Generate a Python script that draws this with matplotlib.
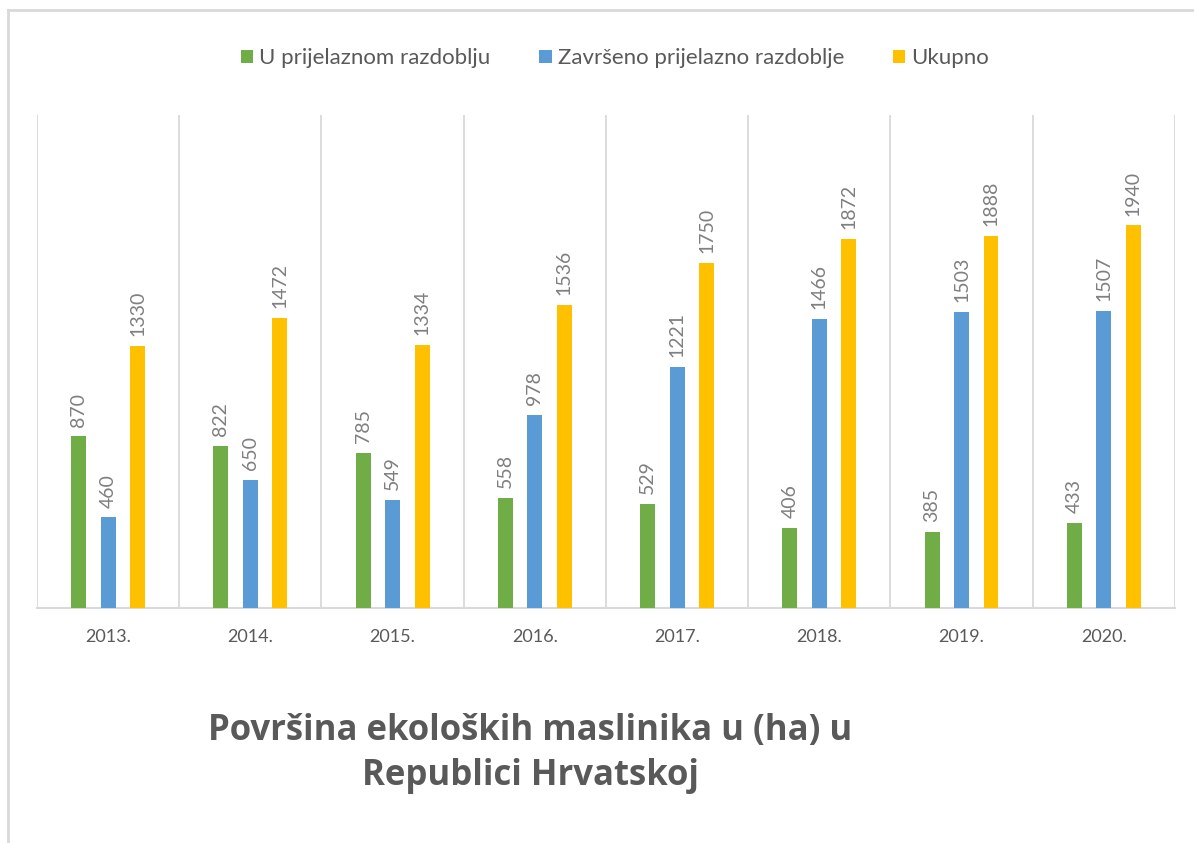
import numpy as np
import matplotlib.pyplot as plt
from matplotlib.lines import Line2D

years = ["2013.", "2014.", "2015.", "2016.", "2017.", "2018.", "2019.", "2020."]
u_prijelaznom = [870, 822, 785, 558, 529, 406, 385, 433]
zavrseno = [460, 650, 549, 978, 1221, 1466, 1503, 1507]
ukupno = [1330, 1472, 1334, 1536, 1750, 1872, 1888, 1940]

series = [
    ("U prijelaznom razdoblju", u_prijelaznom, "#70AD47"),
    ("Završeno prijelazno razdoblje", zavrseno, "#5B9BD5"),
    ("Ukupno", ukupno, "#FFC000"),
]

plt.rcParams["font.family"] = ["Lato", "DejaVu Sans"]

fig = plt.figure(figsize=(11.94, 8.43), dpi=100)
ax = fig.add_axes([0.031, 0.2788, 0.953, 0.5848])

x = np.arange(len(years))
width = 0.105
offsets = [-0.207, 0.0, 0.207]

for (name, vals, color), off in zip(series, offsets):
    bars = ax.bar(x + off, vals, width, color=color, label=name, zorder=3)
    for b, v in zip(bars, vals):
        ax.annotate(str(v), (b.get_x() + b.get_width() / 2, v),
                    xytext=(0, 7), textcoords="offset points",
                    rotation=90, ha="center", va="bottom",
                    fontsize=14, color="#7F7F7F")

ax.set_xlim(-0.5, len(years) - 0.5)
ax.set_ylim(0, 2500)
ax.set_yticks([])
ax.set_xticks(x)
ax.set_xticklabels(years, fontsize=13, color="#595959")
ax.set_xticks(np.arange(-0.5, len(years)), minor=True)
ax.tick_params(axis="x", which="both", length=0, pad=15)
ax.grid(axis="x", which="minor", color="#D9D9D9", linewidth=1.3, zorder=0)
for s in ["left", "right", "top"]:
    ax.spines[s].set_visible(False)
ax.spines["bottom"].set_color("#D9D9D9")
ax.spines["bottom"].set_linewidth(1.5)

ax.legend(loc="center", bbox_to_anchor=(0.515, 0.931), bbox_transform=fig.transFigure,
          ncol=3, frameon=False, fontsize=16, handlelength=0.55, handleheight=0.55,
          handletextpad=0.27, columnspacing=2.2, labelcolor="#595959")

fig.text(0.444, 0.106, "Površina ekoloških maslinika u (ha) u\nRepublici Hrvatskoj",
         ha="center", va="center", fontsize=25, fontweight="bold",
         family=["Open Sans", "DejaVu Sans"], color="#595959", linespacing=1.35)

# outer chart border (left and top edges visible in the screenshot)
fig.add_artist(Line2D([0.0066, 0.0066], [0.0, 0.988], transform=fig.transFigure,
                      color="#D9D9D9", linewidth=2))
fig.add_artist(Line2D([0.0066, 1.0], [0.988, 0.988], transform=fig.transFigure,
                      color="#D9D9D9", linewidth=2))

plt.savefig("out.png", dpi=100)
